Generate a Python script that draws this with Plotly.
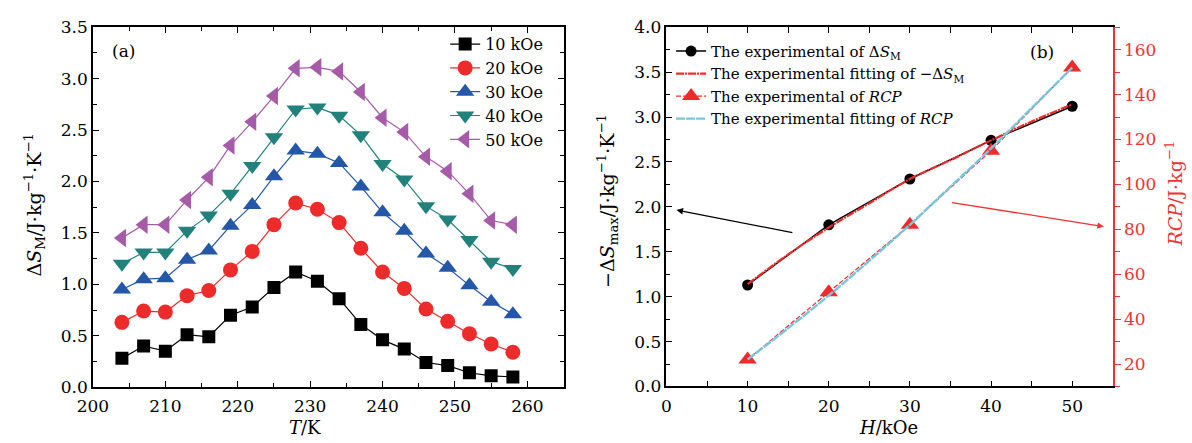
import plotly.graph_objects as go

# ---------------- data ----------------
T = [204, 207, 210, 213, 216, 219, 222, 225, 228, 231, 234, 237, 240, 243, 246, 249, 252, 255, 258]
dS_10 = [0.28, 0.40, 0.35, 0.51, 0.49, 0.70, 0.78, 0.97, 1.12, 1.03, 0.86, 0.61, 0.46, 0.37, 0.24, 0.21, 0.14, 0.11, 0.10]
dS_20 = [0.63, 0.74, 0.73, 0.89, 0.94, 1.14, 1.32, 1.58, 1.79, 1.73, 1.60, 1.35, 1.12, 0.96, 0.76, 0.64, 0.52, 0.42, 0.34]
dS_30 = [0.95, 1.05, 1.06, 1.24, 1.33, 1.57, 1.77, 2.05, 2.30, 2.27, 2.18, 1.95, 1.70, 1.52, 1.30, 1.16, 0.99, 0.83, 0.71]
dS_40 = [1.20, 1.31, 1.31, 1.52, 1.67, 1.88, 2.15, 2.43, 2.70, 2.72, 2.64, 2.45, 2.17, 2.02, 1.76, 1.63, 1.43, 1.22, 1.15]
dS_50 = [1.45, 1.58, 1.58, 1.82, 2.04, 2.35, 2.58, 2.83, 3.10, 3.11, 3.07, 2.87, 2.62, 2.48, 2.24, 2.10, 1.88, 1.62, 1.58]
series_names = ["10 kOe", "20 kOe", "30 kOe", "40 kOe", "50 kOe"]

H = [10, 20, 30, 40, 50]
dSmax = [1.13, 1.80, 2.31, 2.74, 3.12]
RCP = [22, 52, 82, 115, 152]
H_fit = [10, 15, 20, 25, 30, 35, 40, 45, 50]
dSmax_fit = [1.14, 1.47, 1.77, 2.04, 2.31, 2.52, 2.74, 2.95, 3.14]
RCP_fit = [22, 36, 50.5, 66, 82, 99, 116, 134, 152]

FONT = "DejaVu Serif"
RED = "#ee3333"
colors = ["#000000", "#ee2b2b", "#2457a7", "#23817c", "#a55ba8"]
symbols = ["square", "circle", "triangle-up", "triangle-down", "triangle-left"]
sizes = [13, 15, 16, 16, 16]

W, Hh = 1192, 443
# panel boxes in pixels (left, right, top, bottom)
PA = (78, 555, 18, 395)
PB = (659.3, 1111.7, 18, 394.3)

fig = go.Figure()
for name, ys, c, s, sz in zip(series_names, [dS_10, dS_20, dS_30, dS_40, dS_50], colors, symbols, sizes):
    fig.add_trace(go.Scatter(x=T, y=ys, name=name, mode="lines+markers",
                             line=dict(color=c, width=1.2),
                             marker=dict(symbol=s, size=sz, color=c),
                             xaxis="x", yaxis="y", legend="legend"))

fig.add_trace(go.Scatter(x=H, y=dSmax, name="The experimental of Δ<i>S</i><sub>M</sub>",
                         mode="lines+markers", line=dict(color="black", width=1.5),
                         marker=dict(symbol="circle", size=11, color="black"),
                         xaxis="x2", yaxis="y2", legend="legend2"))
fig.add_trace(go.Scatter(x=H_fit, y=dSmax_fit, name="The experimental fitting of −Δ<i>S</i><sub>M</sub>",
                         mode="lines", line=dict(color="#ee2b2b", width=2.2, dash="8px,1px,2px,1px"),
                         xaxis="x2", yaxis="y2", legend="legend2", line_shape="spline"))
fig.add_trace(go.Scatter(x=H, y=RCP, name="The experimental of <i>RCP</i>",
                         mode="lines+markers", line=dict(color="#ee2b2b", width=1.2, dash="5px,2px"),
                         marker=dict(symbol="triangle-up", size=16, color="#ee2b2b"),
                         xaxis="x2", yaxis="y3", legend="legend2"))
fig.add_trace(go.Scatter(x=H_fit, y=RCP_fit, name="The experimental fitting of <i>RCP</i>",
                         mode="lines", line=dict(color="#79c6dc", width=2.4, dash="9px,1px"),
                         xaxis="x2", yaxis="y3", legend="legend2", line_shape="spline"))

TS = 17
tickfont = dict(family=FONT, size=TS, color="black")
common = dict(showline=True, linecolor="black", linewidth=1.5, showgrid=False, zeroline=False,
              ticks="inside", ticklen=6, tickwidth=1.2, tickcolor="black", tickfont=tickfont)

def dx(a, b):
    return [a / W, b / W]

def dy(top, bot):
    return [1 - bot / Hh, 1 - top / Hh]

fig.update_layout(
    width=W, height=Hh, margin=dict(l=0, r=0, t=0, b=0),
    paper_bgcolor="white", plot_bgcolor="white",
    font=dict(family=FONT, size=17, color="black"),
    xaxis=dict(domain=dx(PA[0], PA[1]), range=[200, 265], dtick=10, tick0=200, mirror="allticks",
               ticklabelstandoff=3,
               minor=dict(dtick=5, ticks="inside", ticklen=4, tickcolor="black"), anchor="y", **common),
    yaxis=dict(domain=dy(PA[2], PA[3]), range=[0, 3.5], dtick=0.5, tickformat=".1f", mirror="allticks",
               minor=dict(dtick=0.25, ticks="inside", ticklen=4, tickcolor="black"), anchor="x", **common),
    xaxis2=dict(domain=dx(PB[0], PB[1]), range=[0, 55], dtick=10, tick0=0, mirror="allticks",
                ticklabelstandoff=3,
                minor=dict(dtick=5, ticks="inside", ticklen=4, tickcolor="black"), anchor="y2", **common),
    yaxis2=dict(domain=dy(PB[2], PB[3]), range=[0, 4.0], dtick=0.5, tickformat=".1f", mirror=False,
                minor=dict(dtick=0.25, ticks="inside", ticklen=4, tickcolor="black"), anchor="x2", **common),
    yaxis3=dict(overlaying="y2", side="right", anchor="x2", range=[10, 170], dtick=20, tick0=0,
                showline=True, linecolor=RED, linewidth=1.5, showgrid=False, zeroline=False,
                ticks="outside", ticklen=6, tickwidth=1.2, tickcolor=RED,
                tickfont=dict(family=FONT, size=TS, color=RED),
                minor=dict(dtick=10, ticks="outside", ticklen=5, tickcolor=RED)),
    legend=dict(x=435 / W, y=1 - 18 / Hh, xanchor="left", yanchor="top", bgcolor="rgba(0,0,0,0)",
                font=dict(family=FONT, size=16), tracegroupgap=0, itemwidth=30),
    legend2=dict(x=664 / W, y=1 - 26 / Hh, xanchor="left", yanchor="top", bgcolor="rgba(0,0,0,0)",
                 font=dict(family=FONT, size=15), tracegroupgap=0, itemwidth=30),
    showlegend=True,
)

def A(text, x, y, size=19, color="black", angle=0, yanchor="middle", yshift=0):
    return dict(text=text, x=x / W, y=1 - y / Hh, xref="paper", yref="paper", showarrow=False,
                xanchor="center", yanchor=yanchor, textangle=angle, borderpad=0, yshift=yshift,
                font=dict(family=FONT, size=size, color=color))

ann = [
    A("(a)", 109, 43, size=17),
    A("(b)", 1040, 44, size=17),
    A("Δ<i>S</i><sub>M</sub>/J·kg<sup>−1</sup>·K<sup>−1</sup>", 19, 204, angle=-90),
    A("<i>T</i>/K", 293, 443, size=18, yanchor="bottom", yshift=-6),
    A("−Δ<i>S</i><sub>max</sub>/J·kg<sup>−1</sup>·K<sup>−1</sup>", 600, 200, angle=-90),
    A("<i>H</i>/kOe", 884, 443, size=18, yanchor="bottom", yshift=-6),
    A("<i>RCP</i>/J·kg<sup>−1</sup>", 1174, 192, color=RED, angle=-90),
]
# arrows
ann.append(dict(x=1.24, y=1.965, ax=15.7, ay=1.71, xref="x2", yref="y2", axref="x2", ayref="y2",
                text="", showarrow=True, arrowhead=2, arrowsize=1, arrowwidth=1.3, arrowcolor="black"))
ann.append(dict(x=53.9, y=1.78, ax=35.0, ay=2.05, xref="x2", yref="y2", axref="x2", ayref="y2",
                text="", showarrow=True, arrowhead=2, arrowsize=1, arrowwidth=1.3, arrowcolor=RED))
fig.update_layout(annotations=ann)

fig.write_html("out.html")
